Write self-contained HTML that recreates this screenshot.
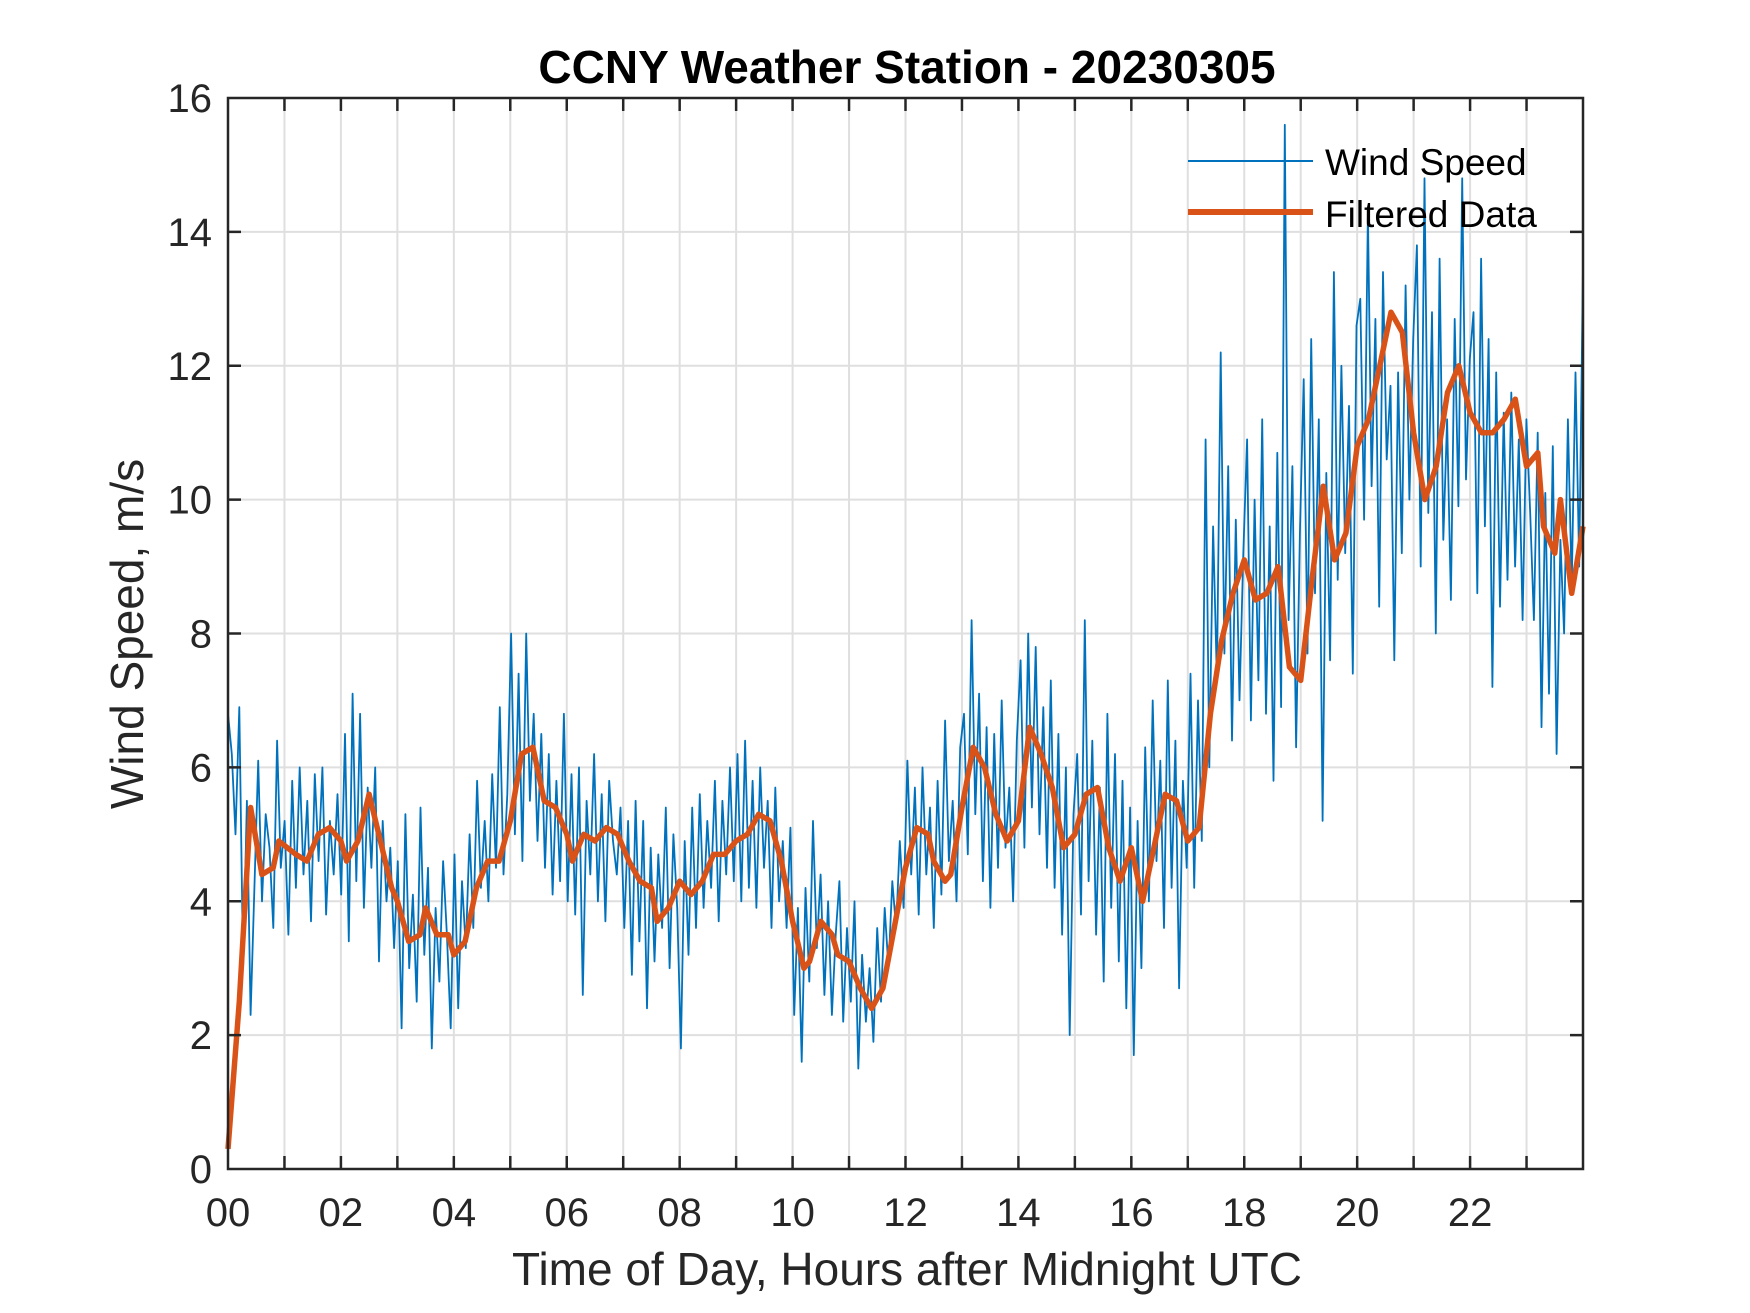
<!DOCTYPE html>
<html><head><meta charset="utf-8"><style>
html,body{margin:0;padding:0;background:#fff;}
svg{display:block;font-family:"Liberation Sans",Arial,sans-serif;}
</style></head><body>
<svg id="chart" width="1750" height="1313" viewBox="0 0 1750 1313">
<rect width="1750" height="1313" fill="#fff"/>
<g id="grid"></g>
<g id="series"></g>
<g id="axes"></g>
<text x="907" y="83" text-anchor="middle" font-size="46" font-weight="bold" fill="#000">CCNY Weather Station - 20230305</text>
<text x="907" y="1285" text-anchor="middle" font-size="46" fill="#262626">Time of Day, Hours after Midnight UTC</text>
<text transform="translate(143,634) rotate(-90)" text-anchor="middle" font-size="46" fill="#262626">Wind Speed, m/s</text>
<g>
<line x1="1188" y1="161" x2="1313" y2="161" stroke="#0072BD" stroke-width="2"/>
<text x="1325" y="175" font-size="37" fill="#000">Wind Speed</text>
<line x1="1188" y1="212" x2="1313" y2="212" stroke="#D95319" stroke-width="6"/>
<text x="1325" y="227" font-size="37" fill="#000">Filtered Data</text>
</g>
</svg>
<script>
const xTicks = [0,2,4,6,8,10,12,14,16,18,20,22];
const xTickLabels = ["00","02","04","06","08","10","12","14","16","18","20","22"];
const yTicks = [0,2,4,6,8,10,12,14,16];
const windSpeed = [
6.8,6.2,5.0,6.9,3.0,5.5,2.3,4.2,6.1,4.0,5.3,4.8,3.6,6.4,4.5,
5.2,3.5,5.8,4.2,6.0,4.4,5.5,3.7,5.9,4.6,6.0,3.8,5.2,4.4,5.6,
4.1,6.5,3.4,7.1,4.3,6.8,3.9,5.7,4.5,6.0,3.1,5.2,4.0,4.8,3.3,
4.6,2.1,5.3,3.0,4.1,2.5,5.4,3.2,4.5,1.8,3.9,2.8,4.6,3.5,2.1,
4.7,2.4,4.3,3.3,5.0,3.6,5.8,4.2,5.2,4.0,5.9,4.5,6.9,4.4,5.6,
8.0,5.0,7.4,4.6,8.0,5.5,6.8,4.9,6.5,4.5,6.2,4.1,5.8,4.3,6.8,
4.0,5.9,3.8,6.0,2.6,5.5,4.4,6.2,4.0,5.6,3.7,5.8,4.9,4.4,5.4,
3.6,5.2,2.9,5.5,3.4,5.2,2.4,4.8,3.1,4.7,3.6,5.4,3.0,5.0,3.9,
1.8,4.9,3.2,5.4,3.6,5.6,3.9,5.2,4.2,5.8,3.7,5.5,4.4,6.0,4.3,
6.2,4.0,6.4,4.2,5.8,3.9,6.0,4.5,5.5,3.6,5.7,4.0,4.9,3.6,5.1,
2.3,3.9,1.6,4.2,2.8,5.2,3.3,4.4,2.6,4.0,2.3,3.5,4.3,2.2,3.6,
2.5,4.0,1.5,3.2,2.2,3.0,1.9,3.6,2.5,3.9,3.0,4.3,3.6,4.9,3.9,
6.1,4.4,5.7,3.8,6.0,4.4,5.4,3.6,5.8,4.1,6.7,4.6,5.5,4.0,6.3,
6.8,4.7,8.2,5.3,7.1,4.3,6.6,3.9,6.5,4.5,7.0,4.8,5.7,4.0,6.4,
7.6,4.8,8.0,5.4,7.8,5.0,6.9,4.5,7.3,4.2,6.5,3.5,6.0,2.0,5.3,
6.2,3.8,8.2,4.3,6.4,3.5,5.7,2.8,6.8,3.9,6.2,3.1,5.8,2.4,5.4,
1.7,5.2,3.0,6.3,4.0,7.0,4.6,6.1,3.6,7.3,4.2,6.4,2.7,5.8,4.5,
7.4,4.2,7.0,4.9,10.9,6.0,9.6,7.3,12.2,7.7,10.5,6.4,9.7,7.0,9.2,
10.9,6.7,10.0,7.3,11.2,6.8,9.6,5.8,10.7,6.9,15.6,8.2,10.5,6.3,9.5,
11.8,7.7,12.4,8.6,11.2,5.2,10.4,7.6,13.4,8.8,12.0,9.2,11.4,7.4,12.6,
13.0,9.7,14.3,10.2,12.7,8.4,13.4,10.6,11.7,7.6,11.9,9.2,13.2,10.0,12.4,
13.8,9.0,14.8,9.8,12.8,8.0,13.6,9.4,11.2,8.5,12.7,9.9,14.8,10.3,12.1,
12.8,8.6,13.6,9.6,12.4,7.2,11.9,8.4,11.3,8.8,11.6,9.0,10.9,8.2,11.2,
9.8,8.2,11.0,6.6,10.1,7.1,10.8,6.2,9.4,8.0,11.2,8.7,11.9,9.0,13.5];
const filtHours = [0,0.2,0.4,0.6,0.8,0.9,1.2,1.4,1.6,1.8,2.0,2.1,2.3,2.5,2.7,2.9,3.0,3.2,3.4,3.5,3.7,3.9,4.0,4.2,4.4,4.6,4.8,5.0,5.2,5.4,5.6,5.8,6.0,6.1,6.3,6.5,6.7,6.9,7.1,7.3,7.5,7.6,7.8,8.0,8.2,8.4,8.6,8.8,9.0,9.2,9.4,9.6,9.8,10.0,10.2,10.3,10.5,10.7,10.8,11.0,11.2,11.4,11.6,11.8,12.0,12.2,12.4,12.5,12.7,12.8,13.0,13.2,13.4,13.6,13.8,14.0,14.2,14.4,14.6,14.8,15.0,15.2,15.4,15.6,15.8,16.0,16.2,16.4,16.6,16.8,17.0,17.2,17.4,17.6,17.8,18.0,18.2,18.4,18.6,18.8,19.0,19.2,19.4,19.6,19.8,20.0,20.2,20.4,20.6,20.8,21.0,21.2,21.4,21.6,21.8,22.0,22.2,22.4,22.6,22.8,23.0,23.2,23.3,23.5,23.6,23.8,24.0];
const filtValues = [0.3,2.5,5.4,4.4,4.5,4.9,4.7,4.6,5.0,5.1,4.9,4.6,4.9,5.6,4.9,4.2,4.0,3.4,3.5,3.9,3.5,3.5,3.2,3.4,4.2,4.6,4.6,5.2,6.2,6.3,5.5,5.4,5.0,4.6,5.0,4.9,5.1,5.0,4.6,4.3,4.2,3.7,3.9,4.3,4.1,4.3,4.7,4.7,4.9,5.0,5.3,5.2,4.6,3.7,3.0,3.1,3.7,3.5,3.2,3.1,2.7,2.4,2.7,3.6,4.5,5.1,5.0,4.6,4.3,4.4,5.4,6.3,6.0,5.3,4.9,5.2,6.6,6.2,5.7,4.8,5.0,5.6,5.7,4.8,4.3,4.8,4.0,4.8,5.6,5.5,4.9,5.1,6.8,7.9,8.6,9.1,8.5,8.6,9.0,7.5,7.3,8.8,10.2,9.1,9.5,10.8,11.2,12.0,12.8,12.5,11.0,10.0,10.5,11.6,12.0,11.3,11.0,11.0,11.2,11.5,10.5,10.7,9.6,9.2,10.0,8.6,9.6];

const NS='http://www.w3.org/2000/svg';
const L=228,R=1583,T=98,B=1169;
const xS=h=>L+(h/24)*(R-L);
const yS=v=>B-(v/16)*(B-T);
function mk(tag,attrs,parent){const e=document.createElementNS(NS,tag);for(const k in attrs)e.setAttribute(k,attrs[k]);parent.appendChild(e);return e;}
const grid=document.getElementById('grid'),axes=document.getElementById('axes'),series=document.getElementById('series');
for(let h=1;h<24;h++){
  const g=mk('line',{x1:xS(h),x2:xS(h),y1:T,y2:B,stroke:'#dfdfdf','stroke-width':2},grid);
  
  
  const t1=mk('line',{x1:xS(h),x2:xS(h),y1:B,y2:B-13,stroke:'#262626','stroke-width':2.5},axes);
  
  
  const t2=mk('line',{x1:xS(h),x2:xS(h),y1:T,y2:T+13,stroke:'#262626','stroke-width':2.5},axes);
  
  
}
yTicks.forEach(v=>{
  if(v>0&&v<16){
    const g=mk('line',{x1:L,x2:R,y1:yS(v),y2:yS(v),stroke:'#dfdfdf','stroke-width':2},grid);
    
    
    const t1=mk('line',{x1:L,x2:L+13,y1:yS(v),y2:yS(v),stroke:'#262626','stroke-width':2.5},axes);
    
    
    const t2=mk('line',{x1:R,x2:R-13,y1:yS(v),y2:yS(v),stroke:'#262626','stroke-width':2.5},axes);
    
    
  }
  const tx=mk('text',{x:L-16,y:yS(v)+14,'text-anchor':'end','font-size':40,fill:'#262626'},axes);
  tx.textContent=v;
  
  
});
xTicks.forEach((h,i)=>{
  const tx=mk('text',{x:xS(h),y:1226,'text-anchor':'middle','font-size':40,fill:'#262626'},axes);
  tx.textContent=xTickLabels[i];
  
  
});
const box=mk('rect',{x:L,y:T,width:R-L,height:B-T,fill:'none',stroke:'#262626','stroke-width':2.5},axes);


const n=windSpeed.length;
const wp=windSpeed.map((v,i)=>xS(i*24/(n-1)).toFixed(1)+','+yS(v).toFixed(1)).join(' ');
const wl=mk('polyline',{points:wp,fill:'none',stroke:'#0072BD','stroke-width':1.8,'stroke-linejoin':'round'},series);


const fp=filtValues.map((v,i)=>xS(filtHours[i]).toFixed(1)+','+yS(v).toFixed(1)).join(' ');
const fl=mk('polyline',{points:fp,fill:'none',stroke:'#D95319','stroke-width':5.5,'stroke-linejoin':'round'},series);


</script>
</body></html>
